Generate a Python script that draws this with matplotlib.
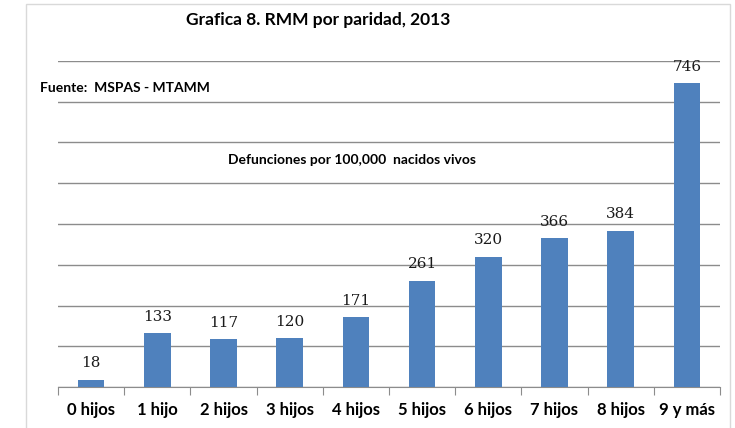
import matplotlib.pyplot as plt
from matplotlib.patches import Rectangle

# datos
categorias = ['0 hijos', '1 hijo', '2 hijos', '3 hijos', '4 hijos',
              '5 hijos', '6 hijos', '7 hijos', '8 hijos', '9 y más']
rmm = [18, 133, 117, 120, 171, 261, 320, 366, 384, 746]

plt.rcParams['font.family'] = ['Lato', 'DejaVu Sans']

W, H = 735, 428
fig = plt.figure(figsize=(W / 100, H / 100), dpi=100)

# marco del grafico
fig.patches.append(Rectangle((26 / W, -0.05), (730 - 26) / W, 1.05 - 4 / H,
                             transform=fig.transFigure, fill=False,
                             edgecolor='#d9d9d9', linewidth=1))

ax = fig.add_axes([58 / W, 1 - 387 / H, (720 - 58) / W, (387 - 61) / H])
x = range(len(categorias))
ax.bar(x, rmm, width=0.4, color='#4f81bd', zorder=3)

for xi, v in zip(x, rmm):
    ax.text(xi, v + 30, str(v), ha='center', va='baseline', fontsize=11,
            color='#1a1a1a', family=['DejaVu Serif'])

ax.set_xlim(-0.5, len(categorias) - 0.5)
ax.set_ylim(0, 800)
ax.set_yticks(range(0, 801, 100))
ax.yaxis.grid(True, color='#8c8c8c', linewidth=1)
ax.tick_params(axis='y', left=False, labelleft=False)
ax.set_xticks([i - 0.5 for i in range(len(categorias) + 1)], minor=False)
ax.set_xticklabels([])
ax.set_xticks(list(x), minor=True)
ax.set_xticklabels(categorias, minor=True, fontsize=12, fontweight='bold')
ax.tick_params(axis='x', which='major', length=6, color='#8c8c8c')
ax.tick_params(axis='x', which='minor', length=0, pad=11)
for s in ['top', 'right', 'left']:
    ax.spines[s].set_visible(False)
ax.spines['bottom'].set_color('#8c8c8c')

fig.text(318 / W, 1 - 20 / H, 'Grafica 8. RMM por paridad, 2013',
         ha='center', va='center', fontsize=12.5, fontweight='bold')
fig.text(40 / W, 1 - 88 / H, 'Fuente:  MSPAS - MTAMM',
         ha='left', va='center', fontsize=10, fontweight='bold')
fig.text(352 / W, 1 - 160 / H, 'Defunciones por 100,000  nacidos vivos',
         ha='center', va='center', fontsize=10, fontweight='bold')

fig.savefig('out.png', dpi=100)
